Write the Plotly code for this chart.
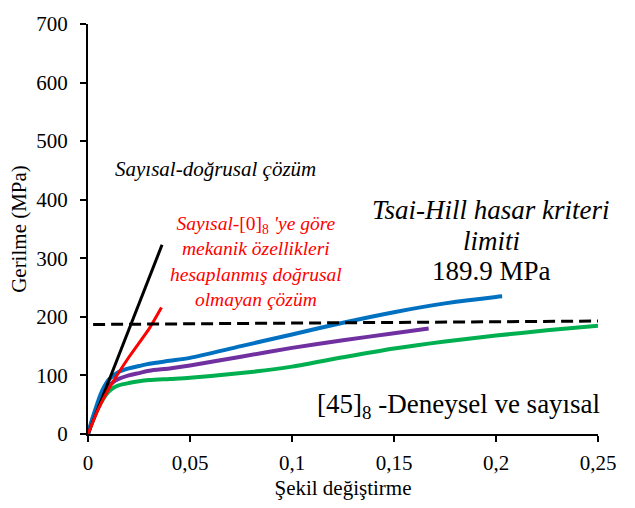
import plotly.graph_objects as go

# Data
blue_x = [0, 0.002, 0.004, 0.006, 0.008, 0.01, 0.0125, 0.015, 0.02, 0.025, 0.03, 0.04, 0.05, 0.075, 0.1, 0.125, 0.15, 0.175, 0.2, 0.203]
blue_y = [0, 25, 46, 66, 81, 92, 100, 106, 112, 116, 120, 125, 130, 150, 170, 190, 208, 223, 234, 235]
purple_x = [0, 0.002, 0.004, 0.006, 0.008, 0.01, 0.0125, 0.015, 0.02, 0.025, 0.03, 0.04, 0.05, 0.075, 0.1, 0.125, 0.15, 0.167]
purple_y = [0, 22, 41, 57, 71, 81, 89, 94, 100, 104, 108, 112, 117, 132, 147, 160, 172, 180]
green_x = [0, 0.002, 0.004, 0.006, 0.008, 0.01, 0.0125, 0.015, 0.02, 0.025, 0.03, 0.04, 0.05, 0.075, 0.1, 0.125, 0.15, 0.175, 0.2, 0.225, 0.25]
green_y = [0, 20, 37, 51, 63, 72, 79, 83, 87, 90, 92, 94, 96, 104, 115, 131, 146, 158, 168, 177, 185]
black_x = [0, 0.0363]
black_y = [0, 323]
red_x = [0, 0.005, 0.01, 0.02, 0.03, 0.036]
red_y = [0, 42, 76, 131, 180, 216]
limit_x = [0.0025, 0.254]
limit_y = [187, 193]

x_ticks = [0, 0.05, 0.1, 0.15, 0.2, 0.25]
x_ticktext = ["0", "0,05", "0,1", "0,15", "0,2", "0,25"]
y_ticks = [0, 100, 200, 300, 400, 500, 600, 700]

FONT = "Liberation Serif"

fig = go.Figure()
fig.add_trace(go.Scatter(x=green_x, y=green_y, mode="lines", line=dict(color="#00B050", width=4, shape="spline", smoothing=0.8)))
fig.add_trace(go.Scatter(x=purple_x, y=purple_y, mode="lines", line=dict(color="#7030A0", width=4, shape="spline", smoothing=0.8)))
fig.add_trace(go.Scatter(x=blue_x, y=blue_y, mode="lines", line=dict(color="#0070C0", width=4, shape="spline", smoothing=0.8)))
fig.add_trace(go.Scatter(x=black_x, y=black_y, mode="lines", line=dict(color="black", width=3)))
fig.add_trace(go.Scatter(x=red_x, y=red_y, mode="lines", line=dict(color="#FF0000", width=3, shape="spline", smoothing=0.6)))
fig.add_trace(go.Scatter(x=limit_x, y=limit_y, mode="lines", line=dict(color="black", width=3, dash="12px,6px")))

ann_font = lambda s, c: dict(family=FONT, size=s, color=c)
fig.add_annotation(x=0.0626, y=452, text="<i>Sayısal-doğrusal çözüm</i>", font=ann_font(21, "black"))
fig.add_annotation(x=0.0825, y=294,
                   text="<i>Sayısal-</i>[0]<sub>8</sub><i> 'ye göre<br>mekanik özellikleri<br>hesaplanmış doğrusal<br>olmayan çözüm</i>",
                   font=ann_font(19.5, "#FF0000"))
fig.add_annotation(x=0.1977, y=382, text="<i>Tsai-Hill hasar kriteri</i>", font=ann_font(27, "black"))
fig.add_annotation(x=0.1977, y=330, text="<i>limiti</i>", font=ann_font(27, "black"))
fig.add_annotation(x=0.1977, y=279, text="189.9 MPa", font=ann_font(27, "black"))
fig.add_annotation(x=0.1815, y=47, text="[45]<sub>8</sub> -Deneysel ve sayısal", font=ann_font(27, "black"))
fig.update_annotations(xref="x", yref="y", showarrow=False, xanchor="center", yanchor="middle")

fig.update_layout(
    width=635, height=508,
    margin=dict(l=88, r=37, t=14, b=73),
    plot_bgcolor="white",
    showlegend=False,
    font=dict(family=FONT, size=21, color="black"),
    xaxis=dict(range=[0, 0.25], tickvals=x_ticks, ticktext=x_ticktext, showgrid=False, zeroline=False,
               showline=True, linecolor="black", linewidth=2, ticks="outside", ticklen=6, tickwidth=1.5,
               tickcolor="black", tickfont=dict(size=21, family=FONT), ticklabelstandoff=3,
               title=dict(text="Şekil değiştirme", font=dict(size=21, family=FONT), standoff=6)),
    yaxis=dict(range=[0, 700], tickvals=y_ticks, showgrid=False, zeroline=False,
               showline=True, linecolor="black", linewidth=2, ticks="outside", ticklen=6, tickwidth=1.5,
               tickcolor="black", tickfont=dict(size=21, family=FONT), ticklabelstandoff=8,
               title=dict(text="Gerilme (MPa)", font=dict(size=21, family=FONT), standoff=4)),
)

fig.write_html("out.html")
